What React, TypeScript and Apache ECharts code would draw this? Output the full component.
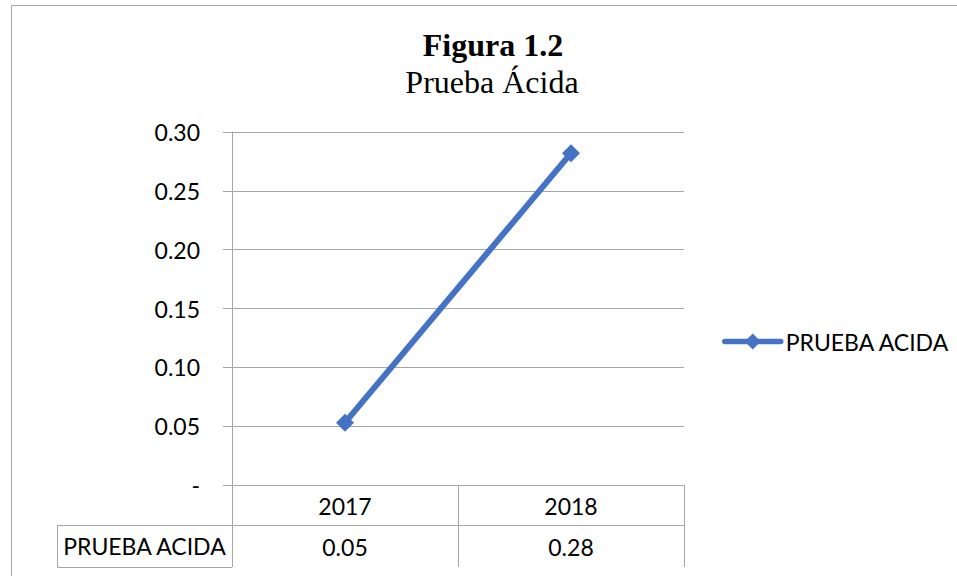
import React, { useEffect, useRef } from 'react';
import * as echarts from 'echarts';

const categories = ['2017', '2018'];
const seriesName = 'PRUEBA ACIDA';
const values = [0.053, 0.282];
const titleText = 'Figura 1.2';
const subtitleText = 'Prueba Ácida';

export default function App() {
  const ref = useRef<HTMLDivElement>(null);
  useEffect(() => {
    const chart = echarts.init(ref.current!, null, { renderer: 'svg' });
    const gray = '#a6a6a6';
    const blue = '#4472c4';
    const L = 232, R = 684, T = 132, B = 485, ROW = 525, BOT = 567, TL = 57;
    const font = 'Lato';
    const fs = 23;
    const line = (x1: number, y1: number, x2: number, y2: number) => ({
      type: 'line',
      silent: true,
      shape: { x1, y1, x2, y2 },
      style: { stroke: gray, lineWidth: 1 },
    });
    chart.setOption({
      animation: false,
      grid: { left: L, right: 957 - R, top: T, bottom: 576 - B },
      legend: {
        orient: 'vertical',
        left: 717,
        top: 325,
        padding: 5,
        itemWidth: 56,
        itemHeight: 20,
        itemGap: 4,
        lineStyle: { width: 5.5, color: blue, cap: 'round' },
        itemStyle: { color: blue },
        textStyle: { fontFamily: font, fontSize: fs, color: '#000' },
        data: [seriesName],
      },
      xAxis: [
        {
          type: 'category',
          data: categories,
          boundaryGap: true,
          axisLine: { lineStyle: { color: gray } },
          axisTick: { show: true, length: ROW - B, lineStyle: { color: gray } },
          axisLabel: { color: '#000', fontFamily: font, fontSize: fs, margin: 9 },
          splitLine: { show: false },
        },
        {
          type: 'category',
          data: categories,
          position: 'bottom',
          offset: ROW - B,
          boundaryGap: true,
          axisLine: { lineStyle: { color: gray } },
          axisTick: { show: true, length: BOT - ROW, lineStyle: { color: gray } },
          axisLabel: {
            color: '#000',
            fontFamily: font,
            fontSize: fs,
            margin: 10,
            formatter: (_v: string, i: number) => values[i].toFixed(2),
          },
          splitLine: { show: false },
        },
      ],
      yAxis: {
        type: 'value',
        min: 0,
        max: 0.3,
        interval: 0.05,
        axisLine: { show: true, lineStyle: { color: gray } },
        axisTick: { show: true, length: 9, lineStyle: { color: gray } },
        splitLine: { lineStyle: { color: gray } },
        axisLabel: {
          color: '#000',
          fontFamily: font,
          fontSize: fs,
          margin: 32,
          formatter: (v: number) => (v === 0 ? '-' : v.toFixed(2)),
        },
      },
      series: [
        {
          name: seriesName,
          type: 'line',
          data: values,
          symbol: 'diamond',
          symbolSize: 18,
          lineStyle: { width: 6, color: blue },
          itemStyle: { color: blue },
        },
      ],
      graphic: [
        line(11.5, 5.5, 957, 5.5),
        line(11.5, 5.5, 11.5, 576),
        line(TL + 0.5, ROW + 0.5, L, ROW + 0.5),
        line(TL + 0.5, BOT + 0.5, L, BOT + 0.5),
        line(TL + 0.5, ROW + 0.5, TL + 0.5, BOT + 0.5),
        {
          type: 'text',
          silent: true,
          style: {
            x: (TL + L) / 2,
            y: (ROW + BOT) / 2,
            text: seriesName,
            align: 'center',
            verticalAlign: 'middle',
            fontFamily: font,
            fontSize: fs,
            fill: '#000',
          },
        },
        {
          type: 'text',
          silent: true,
          style: {
            x: 493,
            y: 45,
            text: titleText,
            align: 'center',
            verticalAlign: 'middle',
            fontFamily: 'Liberation Serif',
            fontWeight: 'bold',
            fontSize: 32,
            fill: '#000',
          },
        },
        {
          type: 'text',
          silent: true,
          style: {
            x: 492,
            y: 82,
            text: subtitleText,
            align: 'center',
            verticalAlign: 'middle',
            fontFamily: 'Liberation Serif',
            fontSize: 32,
            fill: '#000',
          },
        },
      ],
    });
    return () => chart.dispose();
  }, []);
  return (
    <div
      ref={ref}
      style={{ position: 'absolute', left: 0, top: 0, width: 957, height: 576, background: '#fff' }}
    />
  );
}
